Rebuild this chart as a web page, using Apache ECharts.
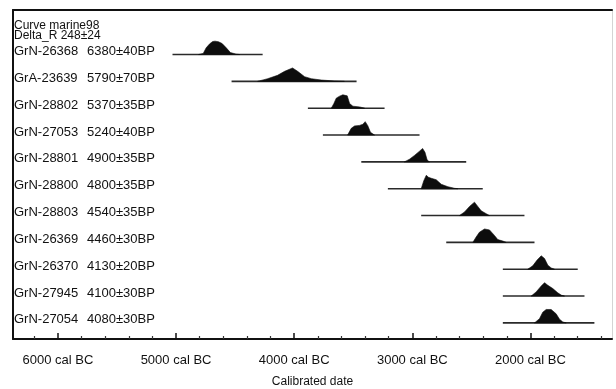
<!DOCTYPE html>
<html>
<head>
<meta charset="utf-8">
<script src="https://cdn.jsdelivr.net/npm/echarts@6/dist/echarts.min.js"></script>
<style>
html,body{margin:0;padding:0;background:#fff;}
#chart{width:616px;height:389px;}
</style>
</head>
<body>
<div id="chart"></div>
<script>
// ---- data ----
const curveInfo = ['Curve marine98', 'Delta_R 248±24'];
const labCodes = ['GrN-26368','GrA-23639','GrN-28802','GrN-27053','GrN-28801','GrN-28800','GrN-28803','GrN-26369','GrN-26370','GrN-27945','GrN-27054'];
const bpDates = ['6380±40BP','5790±70BP','5370±35BP','5240±40BP','4900±35BP','4800±35BP','4540±35BP','4460±30BP','4130±20BP','4100±30BP','4080±30BP'];
// plotted range of each calibrated distribution (years cal BC)
const rangeFrom = [5030, 4530, 3884, 3757, 3432, 3207, 2925, 2713, 2234, 2234, 2234];
const rangeTo   = [4267, 3472, 3235, 2939, 2544, 2404, 2051, 1966, 1600, 1543, 1459];
// probability profiles: [year cal BC, relative probability]
const prob_GrN26368 = [[4810,0],[4770,0.08],[4745,0.5],[4715,0.8],[4690,0.97],[4670,1],[4640,0.95],[4610,0.82],[4575,0.5],[4540,0.15],[4490,0.03],[4460,0]];
const prob_GrA23639 = [[4310,0],[4225,0.2],[4141,0.45],[4081,0.75],[4014,1],[3971,0.75],[3912,0.35],[3855,0.2],[3770,0.1],[3660,0.03],[3575,0]];
const prob_GrN28802 = [[3686,0],[3664,0.35],[3644,0.75],[3616,0.9],[3588,1],[3551,0.92],[3531,0.35],[3503,0.15],[3447,0.1],[3404,0]];
const prob_GrN27053 = [[3548,0],[3517,0.5],[3489,0.68],[3447,0.72],[3419,0.8],[3399,1],[3377,0.7],[3354,0.2],[3320,0]];
const prob_GrN28801 = [[3067,0],[3024,0.2],[2982,0.48],[2939,0.8],[2913,1],[2893,0.72],[2875,0.15],[2856,0]];
const prob_GrN28800 = [[2925,0],[2903,0.6],[2882,1],[2863,0.85],[2840,0.78],[2798,0.67],[2755,0.33],[2699,0.15],[2643,0.03],[2615,0]];
const prob_GrN28803 = [[2601,0],[2558,0.27],[2516,0.68],[2474,1],[2446,0.68],[2417,0.35],[2375,0.14],[2347,0]];
const prob_GrN26369 = [[2488,0],[2460,0.4],[2432,0.76],[2389,1],[2347,0.93],[2305,0.52],[2277,0.21],[2234,0.1],[2206,0]];
const prob_GrN26370 = [[2023,0],[1981,0.25],[1944,0.68],[1909,1],[1881,0.8],[1853,0.3],[1825,0.1],[1797,0]];
const prob_GrN27945 = [[1994,0],[1952,0.31],[1909,0.75],[1881,1],[1853,0.8],[1811,0.56],[1769,0.24],[1740,0.07],[1712,0]];
const prob_GrN27054 = [[1966,0],[1924,0.31],[1896,0.8],[1867,1],[1825,1],[1783,0.68],[1754,0.27],[1726,0.07],[1698,0]];
const profiles = [prob_GrN26368, prob_GrA23639, prob_GrN28802, prob_GrN27053, prob_GrN28801, prob_GrN28800,
                  prob_GrN28803, prob_GrN26369, prob_GrN26370, prob_GrN27945, prob_GrN27054];
const majorTicks = [6000, 5000, 4000, 3000, 2000];
const minorTicks = [6200, 5800, 5600, 5400, 5200, 4800, 4600, 4400, 4200, 3800, 3600, 3400, 3200, 2800, 2600, 2400, 2200, 1800, 1600, 1400];
const axisTitle = 'Calibrated date';

// ---- chart ----
const X_MIN = -6380, X_MAX = -1310;
const PEAK = 0.5; // row units for a relative probability of 1
const FONT = "'Liberation Sans', Arial, sans-serif";
const INK = '#111111';

const chart = echarts.init(document.getElementById('chart'), null, {renderer: 'canvas'});

const option = {
  animation: false,
  backgroundColor: '#ffffff',
  title: {
    text: curveInfo.join('\n'),
    left: 14, top: 21, padding: 0,
    textStyle: {fontFamily: FONT, fontSize: 12, fontWeight: 'normal', color: INK, lineHeight: 10}
  },
  grid: {left: 13, right: 4, top: 10, bottom: 50, containLabel: false, outerBoundsMode: 'none'},
  xAxis: [
    {
      type: 'value', position: 'bottom', min: X_MIN, max: X_MAX,
      axisLine: {show: true, onZero: false, lineStyle: {color: INK, width: 2}},
      axisTick: {show: true, inside: true, length: 6, customValues: majorTicks.map(v => -v), lineStyle: {color: INK, width: 1.5}},
      axisLabel: {show: true, customValues: majorTicks.map(v => -v), formatter: v => Math.abs(v) + ' cal BC',
                  fontFamily: FONT, fontSize: 13, color: INK, margin: 15},
      splitLine: {show: false},
      name: axisTitle, nameLocation: 'middle', nameGap: 37,
      nameTextStyle: {fontFamily: FONT, fontSize: 12, color: INK}
    },
    {
      type: 'value', position: 'bottom', min: X_MIN, max: X_MAX,
      axisLine: {show: false, onZero: false},
      axisTick: {show: true, inside: true, length: 3, customValues: minorTicks.map(v => -v), lineStyle: {color: '#333', width: 1.2}},
      axisLabel: {show: false}, splitLine: {show: false}
    },
    {
      type: 'value', position: 'top', min: X_MIN, max: X_MAX,
      axisLine: {show: true, onZero: false, lineStyle: {color: INK, width: 2}},
      axisTick: {show: false}, axisLabel: {show: false}, splitLine: {show: false}
    }
  ],
  yAxis: [
    {
      type: 'value', position: 'left', inverse: true, min: -1.66, max: 10.6,
      axisLine: {show: true, onZero: false, lineStyle: {color: INK, width: 2}},
      axisTick: {show: false}, axisLabel: {show: false}, splitLine: {show: false}
    },
    {
      type: 'value', position: 'right', inverse: true, min: -1.66, max: 10.6,
      axisLine: {show: true, onZero: false, lineStyle: {color: '#d4d4d4', width: 1}},
      axisTick: {show: false}, axisLabel: {show: false}, splitLine: {show: false}
    }
  ],
  series: [{
    type: 'custom',
    xAxisIndex: 0, yAxisIndex: 0,
    clip: false,
    encode: {x: 0, y: 1},
    data: labCodes.map((c, i) => [-rangeFrom[i], i]),
    renderItem: function (params, api) {
      const i = params.dataIndex;
      const p0 = api.coord([-rangeFrom[i], i]);
      const p1 = api.coord([-rangeTo[i], i]);
      const left = api.coord([X_MIN, i])[0];
      const pts = profiles[i].map(([yr, h]) => api.coord([-yr, i - h * PEAK]));
      return {
        type: 'group',
        children: [
          {type: 'line', shape: {x1: p0[0], y1: p0[1], x2: p1[0], y2: p1[1]},
           style: {stroke: '#2a2a2a', lineWidth: 1.6}},
          {type: 'polygon', shape: {points: pts}, style: {fill: '#0d0d0d', stroke: '#0d0d0d', lineWidth: 0.6}},
          {type: 'text', x: left + 1, y: p0[1] - 3,
           style: {text: labCodes[i], fontFamily: FONT, fontSize: 13, fill: INK, verticalAlign: 'middle', align: 'left'}},
          {type: 'text', x: left + 74, y: p0[1] - 3,
           style: {text: bpDates[i], fontFamily: FONT, fontSize: 13, fill: INK, verticalAlign: 'middle', align: 'left'}}
        ]
      };
    }
  }]
};
chart.setOption(option);
</script>
</body>
</html>
